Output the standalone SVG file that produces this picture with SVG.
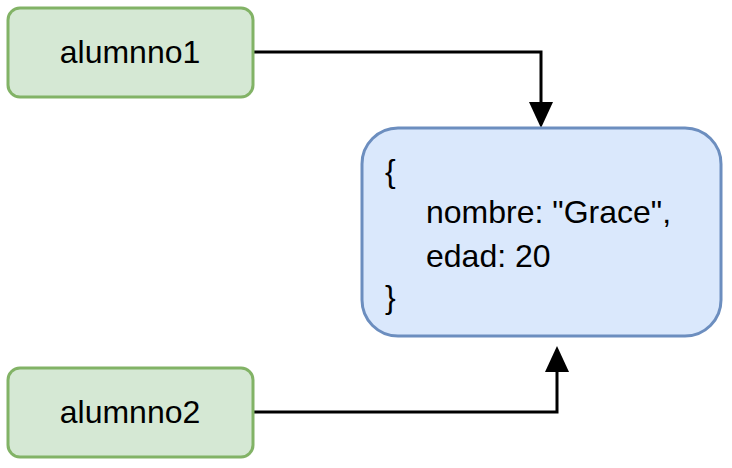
<svg xmlns="http://www.w3.org/2000/svg" width="732" height="468" viewBox="0 0 732 468">
<style>
.g{fill:#d5e8d4;stroke:#82b366;stroke-width:3}
.b{fill:#dae8fc;stroke:#6c8ebf;stroke-width:3}
text{font-family:"Liberation Sans",Arial,sans-serif;font-size:32px;fill:#000}
.c{fill:none;stroke:#000;stroke-width:3}
</style>
<defs><marker id="a" markerWidth="8" markerHeight="8" refX="4" refY="7" orient="auto" markerUnits="userSpaceOnUse" viewBox="0 0 8 8"><path d="M0,0L8,4L0,8z"/></marker></defs>
<rect width="732" height="468" fill="#fff"/>
<g id="connectors">
<path class="c" d="M254,52H541V104"/>
<path d="M529,102L541,128L553,102z"/>
<path class="c" d="M254,412H557V370"/>
<path d="M545,372L557,346L569,372z"/>
</g>
<g id="alumnno1"><rect class="g" x="8" y="8" width="245" height="89" rx="12"/><text x="130" y="63" text-anchor="middle">alumnno1</text></g>
<g id="alumnno2"><rect class="g" x="8" y="368" width="245" height="89" rx="12"/><text x="130" y="423" text-anchor="middle">alumnno2</text></g>
<g id="obj"><rect class="b" x="362" y="128" width="359" height="208" rx="36"/>
<text x="385" y="182">{</text><text x="426" y="223">nombre: "Grace",</text><text x="426" y="267">edad: 20</text><text x="385" y="308">}</text></g>
</svg>
